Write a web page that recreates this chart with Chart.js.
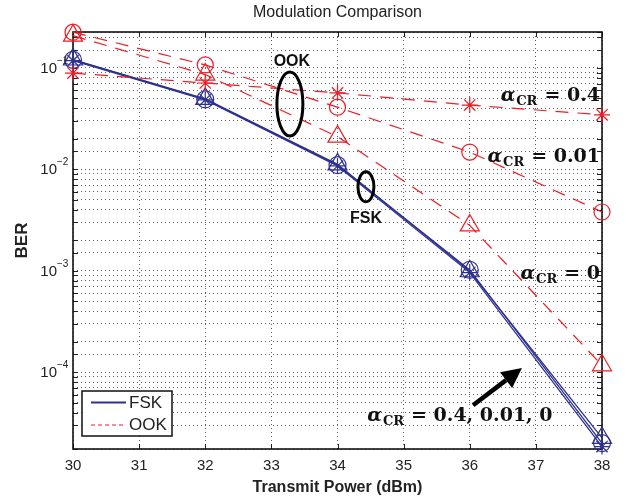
<!DOCTYPE html>
<html lang="en">
<head>
<meta charset="UTF-8">
<title>Modulation Comparison</title>
<script src="https://cdn.jsdelivr.net/npm/chart.js"></script>
<style>
  body { margin: 0; background: #fff; }
  .wrap { width: 631px; height: 499px; }
</style>
</head>
<body>
<div class="wrap"><canvas id="berChart" width="631" height="499"></canvas></div>
<script>
// transmit power (dBm)
const powers = [30, 32, 34, 36, 38];

// FSK, three alpha_CR values (curves nearly overlap)
const fskCr04  = [0.118, 0.0485, 0.0108, 0.00096, 1.85e-5];
const fskCr001 = [0.120, 0.0490, 0.0110, 0.00102, 2.0e-5];
const fskCr0   = [0.121, 0.0495, 0.0112, 0.00099, 2.25e-5];

// OOK
const ookCr04  = [0.089, 0.071, 0.0567, 0.043, 0.0345];
const ookCr001 = [0.225, 0.107, 0.041, 0.0148, 0.0038];
const ookCr0   = [0.208, 0.086, 0.021, 0.0028, 0.000117];

// labelled decades on the BER axis
const decadeExps = [-1, -2, -3, -4];

const BLUE = '#2e3192';
const RED = '#ee1c25';
const SANS = '"Liberation Sans", Arial, sans-serif';
const SERIF = '"DejaVu Serif", serif';

function pts(ys) {
    return powers.map((p, i) => ({ x: p, y: ys[i] }));
}

function fsk(ys, style, r) {
    return {
        label: 'FSK', data: pts(ys), borderColor: BLUE, backgroundColor: 'transparent',
        borderWidth: 1.3, pointStyle: style, pointRadius: r, pointBorderWidth: 1.2,
        pointBorderColor: BLUE, clip: false
    };
}

function ook(ys, style, r) {
    return {
        label: 'OOK', data: pts(ys), borderColor: RED, backgroundColor: 'transparent',
        borderWidth: 1.2, borderDash: [13, 9], pointStyle: style, pointRadius: r,
        pointBorderWidth: 1.2, pointBorderColor: RED, clip: false
    };
}

// annotation placement (data coordinates)
const notes = {
    ookEllipse: { x: 33.28, y: 0.0441, rx: 13, ry: 32 },
    ookText: { x: 33.31, y: 0.115 },
    fskEllipse: { x: 34.43, y: 0.00673, rx: 8, ry: 15 },
    fskText: { x: 34.43, y: 0.0033 },
    lab04: { x: 37.97, y: 0.0555 },
    lab001: { x: 37.97, y: 0.0139 },
    lab0: { x: 37.97, y: 0.00098 },
    labAll: { x: 34.45, y: 3.86e-5 },
    arrowFrom: { x: 36.05, y: 4.73e-5 },
    arrowTo: { x: 36.79, y: 1.1e-4 }
};

function drawAlpha(ctx, x, y, rest, align) {
    ctx.font = 'italic bold 19px ' + SERIF;
    const wA = ctx.measureText('α').width;
    ctx.font = 'bold 13px ' + SERIF;
    const wS = ctx.measureText('CR').width;
    ctx.font = 'bold 19px ' + SERIF;
    const wR = ctx.measureText(rest).width;
    const gap = 7;
    const total = wA + 1 + wS + gap + wR;
    let x0 = align === 'right' ? x - total : x;
    const base = y + 7;
    ctx.textAlign = 'left';
    ctx.textBaseline = 'alphabetic';
    ctx.fillStyle = '#111';
    ctx.font = 'italic bold 19px ' + SERIF;
    ctx.fillText('α', x0, base);
    ctx.font = 'bold 13px ' + SERIF;
    ctx.fillText('CR', x0 + wA + 1, base + 4);
    ctx.font = 'bold 19px ' + SERIF;
    ctx.fillText(rest, x0 + wA + 1 + wS + gap, base);
}

const decor = {
    id: 'decor',
    beforeDatasetsDraw(chart) {
        const { ctx, chartArea: a, scales: { x, y } } = chart;
        ctx.save();
        // inner tick marks, matlab style
        ctx.strokeStyle = '#222';
        ctx.lineWidth = 1;
        ctx.beginPath();
        y.ticks.forEach(t => {
            const py = Math.round(y.getPixelForValue(t.value)) + 0.5;
            ctx.moveTo(a.left, py); ctx.lineTo(a.left + 5, py);
            ctx.moveTo(a.right, py); ctx.lineTo(a.right - 5, py);
        });
        x.ticks.forEach(t => {
            const px = Math.round(x.getPixelForValue(t.value)) + 0.5;
            ctx.moveTo(px, a.bottom); ctx.lineTo(px, a.bottom - 5);
            ctx.moveTo(px, a.top); ctx.lineTo(px, a.top + 5);
        });
        ctx.stroke();
        // plot box
        ctx.strokeStyle = '#111';
        ctx.lineWidth = 1.6;
        ctx.strokeRect(a.left, a.top, a.right - a.left, a.bottom - a.top);
        ctx.restore();
    },
    afterDatasetsDraw(chart) {
        const { ctx, chartArea: a, scales: { x, y } } = chart;
        const P = p => ({ x: x.getPixelForValue(p.x), y: y.getPixelForValue(p.y) });
        ctx.save();

        // title
        ctx.fillStyle = '#222';
        ctx.font = '16px ' + SANS;
        ctx.textAlign = 'center';
        ctx.textBaseline = 'middle';
        ctx.fillText('Modulation Comparison', (a.left + a.right) / 2, 13);

        // y decade labels 10^n
        decadeExps.forEach(e => {
            const py = y.getPixelForValue(Math.pow(10, e));
            ctx.fillStyle = '#222';
            ctx.font = '15px ' + SANS;
            ctx.textAlign = 'right';
            ctx.textBaseline = 'middle';
            ctx.fillText('10', a.left - 16, py + 1);
            ctx.font = '10px ' + SANS;
            ctx.textAlign = 'left';
            ctx.fillText('\u2212' + Math.abs(e), a.left - 16, py - 7);
        });

        // ellipses
        ctx.strokeStyle = '#000';
        ctx.lineWidth = 3;
        [notes.ookEllipse, notes.fskEllipse].forEach(el => {
            const c = P(el);
            ctx.beginPath();
            ctx.ellipse(c.x, c.y, el.rx, el.ry, 0, 0, Math.PI * 2);
            ctx.stroke();
        });
        ctx.fillStyle = '#111';
        ctx.font = 'bold 16px ' + SANS;
        ctx.textAlign = 'center';
        ctx.textBaseline = 'middle';
        let c = P(notes.ookText);
        ctx.fillText('OOK', c.x, c.y);
        c = P(notes.fskText);
        ctx.fillText('FSK', c.x, c.y);

        // alpha labels
        c = P(notes.lab04); drawAlpha(ctx, c.x, c.y, '= 0.4', 'right');
        c = P(notes.lab001); drawAlpha(ctx, c.x, c.y, '= 0.01', 'right');
        c = P(notes.lab0); drawAlpha(ctx, c.x, c.y, '= 0', 'right');
        c = P(notes.labAll); drawAlpha(ctx, c.x, c.y, '= 0.4, 0.01, 0', 'left');

        // arrow
        const f = P(notes.arrowFrom), t = P(notes.arrowTo);
        const ang = Math.atan2(t.y - f.y, t.x - f.x);
        const hl = 20, hw = 10;
        const bx = t.x - hl * Math.cos(ang), by = t.y - hl * Math.sin(ang);
        ctx.strokeStyle = '#000';
        ctx.lineWidth = 4.5;
        ctx.beginPath();
        ctx.moveTo(f.x, f.y);
        ctx.lineTo(bx, by);
        ctx.stroke();
        ctx.fillStyle = '#000';
        ctx.beginPath();
        ctx.moveTo(t.x, t.y);
        ctx.lineTo(bx + hw * Math.sin(ang), by - hw * Math.cos(ang));
        ctx.lineTo(bx - hw * Math.sin(ang), by + hw * Math.cos(ang));
        ctx.closePath();
        ctx.fill();

        // legend
        const lx = a.left + 9, ly = 391, lw = 90, lh = 45;
        ctx.fillStyle = '#fff';
        ctx.fillRect(lx, ly, lw, lh);
        ctx.strokeStyle = '#111';
        ctx.lineWidth = 1.5;
        ctx.strokeRect(lx, ly, lw, lh);
        ctx.lineWidth = 2;
        ctx.strokeStyle = BLUE;
        ctx.beginPath(); ctx.moveTo(lx + 9, ly + 11.5); ctx.lineTo(lx + 44, ly + 11.5); ctx.stroke();
        ctx.strokeStyle = RED;
        ctx.lineWidth = 1.2;
        ctx.setLineDash([4, 3]);
        ctx.beginPath(); ctx.moveTo(lx + 9, ly + 34); ctx.lineTo(lx + 44, ly + 34); ctx.stroke();
        ctx.setLineDash([]);
        ctx.fillStyle = '#222';
        ctx.font = '17px ' + SANS;
        ctx.textAlign = 'left';
        ctx.textBaseline = 'middle';
        ctx.fillText('FSK', lx + 47, ly + 12);
        ctx.fillText('OOK', lx + 47, ly + 34);

        ctx.restore();
    }
};

const gridDots = {
    color: 'rgba(40,40,40,0.75)',
    lineWidth: 1,
    drawTicks: false
};

new Chart(document.getElementById('berChart'), {
    type: 'line',
    data: {
        datasets: [
            ook(ookCr04, 'star', 8),
            ook(ookCr001, 'circle', 8),
            ook(ookCr0, 'triangle', 11),
            fsk(fskCr04, 'star', 8),
            fsk(fskCr001, 'circle', 8.5),
            fsk(fskCr0, 'triangle', 11)
        ]
    },
    options: {
        responsive: false,
        animation: false,
        layout: { padding: { top: 32, right: 29, left: 0, bottom: 0 } },
        plugins: { legend: { display: false }, tooltip: { enabled: false } },
        elements: { line: { tension: 0 } },
        scales: {
            x: {
                type: 'linear', min: 30, max: 38,
                ticks: { stepSize: 1, color: '#222', font: { family: SANS, size: 15 }, padding: 8 },
                grid: gridDots,
                border: { display: false, dash: [1, 3] },
                title: { display: true, text: 'Transmit Power (dBm)', color: '#222',
                    font: { family: SANS, size: 16, weight: 'bold' }, padding: { top: 0, bottom: 2 } },
                afterFit(s) { s.height = 50; }
            },
            y: {
                type: 'logarithmic', min: 1.75e-5, max: 0.226,
                ticks: { callback: () => '', autoSkip: false },
                grid: gridDots,
                border: { display: false, dash: [1, 3] },
                title: { display: true, text: 'BER', color: '#222',
                    font: { family: SANS, size: 17, weight: 'bold' }, padding: { top: 12, bottom: 0 } },
                afterFit(s) { s.width = 73; }
            }
        }
    },
    plugins: [decor]
});
</script>
</body>
</html>
